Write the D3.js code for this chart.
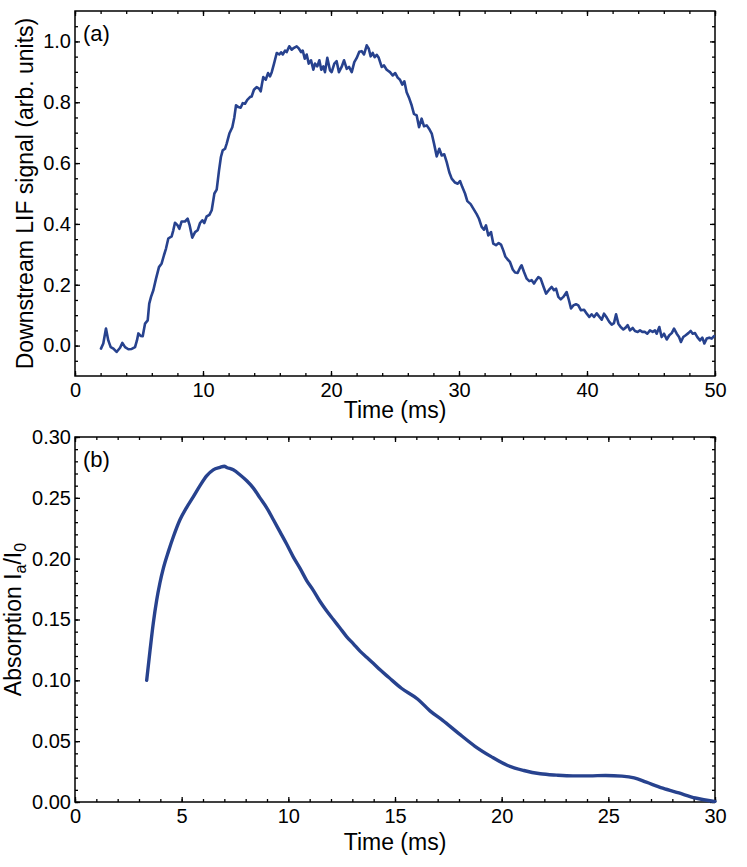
<!DOCTYPE html>
<html>
<head>
<meta charset="utf-8">
<script src="https://cdn.jsdelivr.net/npm/d3@7/dist/d3.min.js"></script>
<style>
  body { margin: 0; background: #fff; }
  svg text { font-family: "Liberation Sans", Arial, sans-serif; fill: #000; }
  .axis path { display: none; }
  .axis line { stroke: #000; stroke-width: 1.3px; }
</style>
</head>
<body>
<div id="chart"></div>
<script>
// (a) downstream LIF signal
var lifTime = [2.03,2.21,2.42,2.60,2.79,3.00,3.25,3.52,3.70,3.91,4.17,4.43,4.69,4.84,4.95,5.13,5.29,5.47,5.68,5.80,
  5.94,6.12,6.33,6.56,6.77,6.95,7.11,7.29,7.55,7.68,7.81,8.02,8.15,8.33,8.59,8.80,8.96,9.16,9.38,9.58,
  9.77,9.95,10.10,10.29,10.50,10.68,10.89,11.07,11.25,11.40,11.54,11.72,11.85,12.06,12.29,12.45,12.58,12.76,12.94,13.10,
  13.28,13.46,13.67,13.80,13.98,14.19,14.38,14.51,14.61,14.71,14.90,15.08,15.23,15.37,15.55,15.76,15.96,16.10,16.23,16.41,
  16.54,16.74,16.93,17.11,17.32,17.50,17.66,17.79,17.95,18.10,18.26,18.44,18.62,18.75,18.93,19.09,19.24,19.40,19.53,19.71,
  19.92,20.05,20.26,20.44,20.62,20.83,21.02,21.23,21.41,21.62,21.82,22.00,22.21,22.40,22.58,22.79,22.95,23.10,23.26,23.41,
  23.57,23.73,23.96,24.14,24.35,24.61,24.82,25.02,25.21,25.39,25.57,25.73,25.91,26.12,26.30,26.48,26.69,26.88,27.08,27.27,
  27.48,27.66,27.87,28.05,28.26,28.46,28.65,28.85,29.04,29.24,29.43,29.69,29.90,30.08,30.26,30.47,30.65,30.91,31.12,31.38,
  31.56,31.77,31.95,32.11,32.29,32.50,32.68,32.89,33.10,33.28,33.46,33.62,33.80,33.98,34.20,34.38,34.58,34.77,34.89,35.08,
  35.29,35.49,35.68,35.86,36.02,36.20,36.38,36.59,36.80,37.01,37.24,37.42,37.58,37.76,37.95,38.15,38.41,38.59,38.75,38.93,
  39.14,39.32,39.53,39.77,39.98,40.18,40.36,40.55,40.76,40.94,41.15,41.33,41.54,41.74,41.93,42.11,42.27,42.45,42.63,42.84,
  43.02,43.18,43.36,43.57,43.75,43.96,44.14,44.32,44.53,44.71,44.92,45.13,45.31,45.44,45.65,45.83,46.02,46.23,46.43,46.62,
  46.80,47.01,47.19,47.34,47.52,47.71,47.92,48.10,48.26,48.44,48.62,48.83,49.01,49.17,49.35,49.55,49.74,49.92];
var lifSignal = [-0.010,0.007,0.056,0.017,-0.005,-0.010,-0.021,-0.007,0.009,-0.005,-0.012,-0.011,-0.005,0.017,0.040,0.032,0.031,0.072,0.083,0.138,
  0.160,0.182,0.220,0.258,0.270,0.297,0.319,0.352,0.359,0.379,0.404,0.395,0.384,0.408,0.408,0.417,0.395,0.355,0.373,0.379,
  0.403,0.412,0.403,0.425,0.430,0.445,0.500,0.513,0.575,0.620,0.642,0.647,0.664,0.697,0.718,0.751,0.790,0.784,0.782,0.797,
  0.795,0.808,0.817,0.819,0.841,0.850,0.845,0.836,0.861,0.883,0.874,0.896,0.885,0.899,0.927,0.962,0.957,0.964,0.957,0.970,
  0.965,0.984,0.973,0.979,0.984,0.976,0.965,0.970,0.943,0.957,0.927,0.938,0.907,0.927,0.918,0.938,0.907,0.918,0.899,0.946,
  0.905,0.899,0.927,0.935,0.899,0.916,0.938,0.910,0.916,0.899,0.932,0.945,0.966,0.968,0.957,0.987,0.976,0.951,0.962,0.948,
  0.956,0.946,0.916,0.921,0.907,0.899,0.888,0.896,0.881,0.874,0.858,0.869,0.833,0.812,0.790,0.762,0.757,0.718,0.746,0.721,
  0.724,0.713,0.697,0.664,0.622,0.647,0.625,0.629,0.603,0.570,0.549,0.536,0.532,0.541,0.521,0.500,0.475,0.465,0.450,0.432,
  0.417,0.390,0.381,0.395,0.362,0.373,0.335,0.330,0.337,0.332,0.313,0.293,0.283,0.275,0.250,0.240,0.239,0.256,0.264,0.242,
  0.220,0.212,0.215,0.204,0.215,0.225,0.220,0.195,0.171,0.182,0.193,0.182,0.187,0.160,0.152,0.160,0.176,0.149,0.122,0.132,
  0.136,0.132,0.116,0.118,0.105,0.094,0.103,0.094,0.106,0.096,0.085,0.105,0.092,0.078,0.069,0.074,0.103,0.072,0.061,0.053,
  0.059,0.067,0.050,0.058,0.048,0.045,0.050,0.045,0.045,0.039,0.050,0.045,0.050,0.039,0.061,0.028,0.039,0.020,0.034,0.041,
  0.056,0.039,0.028,0.012,0.028,0.034,0.041,0.048,0.039,0.041,0.028,0.017,0.026,0.007,0.023,0.026,0.023,0.031];

// (b) absorption Ia/I0
var absTime = [3.36,3.52,3.67,3.83,3.98,4.14,4.38,4.61,4.92,5.23,5.55,5.86,6.17,6.48,6.80,7.00,7.11,7.42,7.73,8.05,
  8.36,8.67,8.98,9.30,9.61,9.92,10.23,10.55,10.86,11.17,11.48,11.80,12.11,12.42,12.73,13.05,13.36,13.67,13.98,14.30,
  14.70,15.30,16.07,16.64,17.22,17.98,18.75,19.51,20.28,21.04,21.81,22.57,23.34,24.11,24.87,25.64,26.21,26.78,27.55,28.31,
  29.08,29.84,30.00];
var absValue = [0.100,0.125,0.147,0.166,0.180,0.192,0.206,0.218,0.232,0.242,0.251,0.260,0.268,0.273,0.275,0.276,0.275,0.273,0.269,0.264,
  0.258,0.250,0.242,0.232,0.222,0.212,0.2015,0.192,0.182,0.174,0.165,0.157,0.150,0.143,0.136,0.130,0.124,0.119,0.114,0.1086,
  0.1025,0.0935,0.0845,0.0749,0.0673,0.0564,0.0458,0.0373,0.0300,0.0259,0.0232,0.0221,0.0215,0.0215,0.0218,0.0213,0.0199,0.0163,0.0114,0.0074,
  0.0033,0.0008,0.0005];

var topXTicks = [0, 10, 20, 30, 40, 50];
var topYTicks = [0.0, 0.2, 0.4, 0.6, 0.8, 1.0];
var botXTicks = [0, 5, 10, 15, 20, 25, 30];
var botYTicks = [0.00, 0.05, 0.10, 0.15, 0.20, 0.25, 0.30];

var W = 747, H = 867;
var lineColor = "#27428e";
var svg = d3.select("#chart").append("svg").attr("width", W).attr("height", H);

function panel(opt) {
  var g = svg.append("g");
  var x = d3.scaleLinear().domain(opt.xDomain).range([75, 715]);
  var y = d3.scaleLinear().domain(opt.yDomain).range([opt.bottom, opt.top]);

  // inward ticks on all four sides
  function ticks(axisFn, pos, major, minor, fmt, showLabels, transform, pad) {
    g.append("g").attr("class", "axis").attr("transform", transform)
      .call(axisFn(pos === "x" ? x : y).tickValues(minor).tickSize(-3).tickFormat(""));
    g.append("g").attr("class", "axis major").attr("transform", transform)
      .call(axisFn(pos === "x" ? x : y).tickValues(major).tickSize(-5).tickPadding(pad)
        .tickFormat(showLabels ? fmt : ""))
      .selectAll("text").style("font-size", "20px");
  }
  ticks(d3.axisBottom, "x", opt.xTicks, opt.xMinor, opt.xFmt, true, "translate(0," + opt.bottom + ")", 7);
  ticks(d3.axisTop, "x", opt.xTicks, opt.xMinor, opt.xFmt, false, "translate(0," + opt.top + ")", 3);
  ticks(d3.axisLeft, "y", opt.yTicks, opt.yMinor, opt.yFmt, true, "translate(75,0)", 4);
  ticks(d3.axisRight, "y", opt.yTicks, opt.yMinor, opt.yFmt, false, "translate(715,0)", 3);

  g.append("rect").attr("x", 75).attr("y", opt.top).attr("width", 640).attr("height", opt.bottom - opt.top)
    .attr("fill", "none").attr("stroke", "#000").attr("stroke-width", 1.5);

  var line = d3.line().x(function (d) { return x(d[0]); }).y(function (d) { return y(d[1]); })
    .curve(opt.curve);
  g.append("path").datum(d3.zip(opt.xs, opt.ys)).attr("d", line)
    .attr("fill", "none").attr("stroke", lineColor).attr("stroke-width", opt.width)
    .attr("stroke-linejoin", "round").attr("stroke-linecap", "round");

  g.append("text").attr("x", 83).attr("y", opt.top + 30).style("font-size", "22px").text(opt.tag);
  g.append("text").attr("x", 395).attr("y", opt.bottom + opt.titleGap).attr("text-anchor", "middle")
    .style("font-size", "23px").text("Time (ms)");
  return g;
}

panel({
  xDomain: [0, 50], yDomain: [-0.1, 1.1], top: 11, bottom: 376, titleGap: 42,
  xTicks: topXTicks, xMinor: d3.range(0, 51, 2), xFmt: d3.format("d"),
  yTicks: topYTicks, yMinor: d3.range(-0.05, 1.06, 0.05), yFmt: d3.format(".1f"),
  xs: lifTime, ys: lifSignal, curve: d3.curveLinear, width: 2.6, tag: "(a)"
}).append("text")
  .attr("transform", "translate(33,193.5) rotate(-90)").attr("text-anchor", "middle")
  .style("font-size", "23px").text("Downstream LIF signal (arb. units)");

var gb = panel({
  xDomain: [0, 30], yDomain: [0, 0.3], top: 437, bottom: 802, titleGap: 48,
  xTicks: botXTicks, xMinor: d3.range(0, 31, 1), xFmt: d3.format("d"),
  yTicks: botYTicks, yMinor: d3.range(0, 0.301, 0.01), yFmt: d3.format(".2f"),
  xs: absTime, ys: absValue, curve: d3.curveMonotoneX, width: 3.4, tag: "(b)"
});
var yt = gb.append("text")
  .attr("transform", "translate(20.5,619.5) rotate(-90)").attr("text-anchor", "middle")
  .style("font-size", "23px");
yt.append("tspan").text("Absorption I");
yt.append("tspan").attr("dy", 5).style("font-size", "16px").text("a");
yt.append("tspan").attr("dy", -5).text("/I");
yt.append("tspan").attr("dy", 5).style("font-size", "16px").text("0");
</script>
</body>
</html>
